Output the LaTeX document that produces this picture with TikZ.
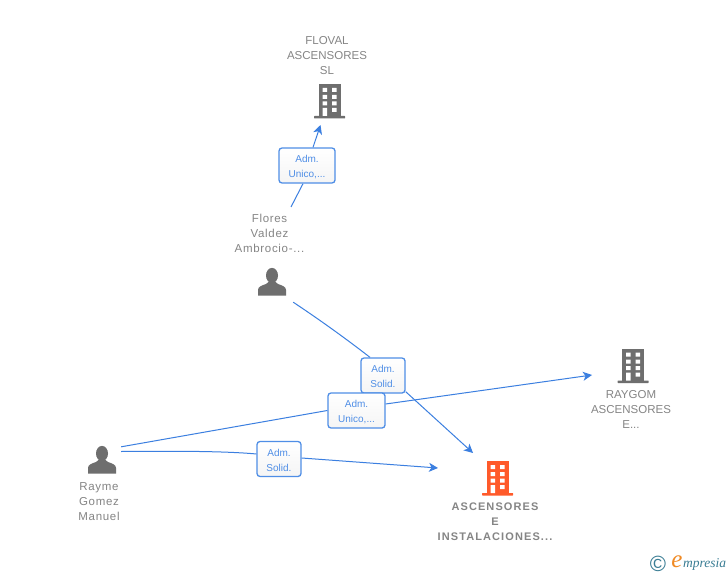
\documentclass[tikz,border=0pt]{standalone}
\usepackage{fontspec}
\setmainfont{Liberation Sans}
\newfontfamily\spacedbold[LetterSpace=10]{Liberation Sans Bold}
\newfontfamily\spacedreg[LetterSpace=6]{Liberation Sans}
\newfontfamily\logofont{Liberation Serif Italic}
\usetikzlibrary{arrows.meta,calc}
\definecolor{linkblue}{HTML}{3B7FE0}
\definecolor{boxblue}{HTML}{4F8EE6}
\definecolor{labelgray}{HTML}{858585}
\definecolor{icongray}{HTML}{6E6E6E}
\definecolor{mainorange}{HTML}{FF5A2A}
\definecolor{logoteal}{HTML}{3A7D94}
\definecolor{logoorange}{HTML}{F08A24}
\tikzset{
  x=1pt,y=-1pt,
  link/.style={draw=linkblue,line width=1pt},
  arrowlink/.style={link,-{Stealth[length=9pt,width=9pt,inset=2.5pt]}},
  rolebox/.style={draw=boxblue,line width=1.3pt,rounded corners=3pt,top color=white,bottom color=black!4,text=boxblue,
    font=\fontsize{10}{15}\selectfont,align=center,inner sep=0pt},
  entitylabel/.style={text=labelgray,font=\fontsize{11.5}{15}\selectfont,align=center,inner sep=0pt},
  personlabel/.style={text=labelgray,font=\fontsize{11.5}{15}\spacedreg\selectfont,align=center,inner sep=0pt},
  mainlabel/.style={text=labelgray,font=\fontsize{11}{15}\spacedbold\selectfont,align=center,inner sep=0pt},
  hit/.style={inner sep=0pt,minimum width=#1,minimum height=#1},
  pics/buildingicon/.style={code={
    \fill[#1] (-11,-16) rectangle (11,16);
    \fill[#1,rounded corners=0.5pt] (-15.5,16) rectangle (15.5,18.5);
    \fill[white] (-7,-12) rectangle (-2.5,-8) (2.5,-12) rectangle (7,-8)
                 (-7,-5) rectangle (-2.5,-1) (2.5,-5) rectangle (7,-1)
                 (-7,1.5) rectangle (-2.5,5.5) (2.5,1.5) rectangle (7,5.5)
                 (-7,8) rectangle (-2.5,16) (2.5,8) rectangle (7,12);
  }},
  pics/personicon/.style={code={
    \fill[icongray] (0,-6.5) ellipse[x radius=6,y radius=7.6];
    \fill[icongray] (-14,13.5) -- (-14,8) .. controls (-14,4.5) and (-10,3.5) .. (-6,2)
      -- (-3.5,0) -- (3.5,0) -- (6,2) .. controls (10,3.5) and (14,4.5) .. (14,8) -- (14,13.5) -- cycle;
  }}
}
\begin{document}
\begin{tikzpicture}
\useasboundingbox[fill=white] (0,0) rectangle (728,575);

% entity positions
\node[hit=34pt] (floval) at (329.5,100) {};
\node[hit=34pt] (raygom) at (633,364.5) {};
\node[hit=34pt] (ascensores) at (497.5,477) {};
\node[inner sep=0pt,minimum width=42pt,minimum height=40pt] (flores) at (272,282) {};
\node[inner sep=0pt,minimum width=38pt,minimum height=28pt] (rayme) at (102,460) {};

% icons
\pic at (floval) {buildingicon=icongray};
\pic at (raygom) {buildingicon=icongray};
\pic at (ascensores) {buildingicon=mainorange};
\pic at (flores) {personicon};
\pic at (rayme) {personicon};

% labels
\node[entitylabel] (flovalL) at (327,55.5) {FLOVAL\\ASCENSORES\\SL};
\node[personlabel] (floresL) at (269.5,233) {Flores\\Valdez\\Ambrocio-...};
\node[personlabel] (raymeL) at (99,502) {Rayme\\Gomez\\Manuel};
\node[entitylabel] (raygomL) at (631,409) {RAYGOM\\ASCENSORES\\E...};
\node[mainlabel] (ascensoresL) at (495,522) {ASCENSORES\\E\\INSTALACIONES...};

% role boxes
\node[rolebox,minimum width=56pt,minimum height=35pt] (b1) at (307,165.5) {\rule{0pt}{10pt}Adm.\\Unico,...};
\node[rolebox,minimum width=44pt,minimum height=35pt] (b2) at (383,375.5) {\rule{0pt}{10pt}Adm.\\Solid.};
\node[rolebox,minimum width=57pt,minimum height=35pt] (b3) at (356.5,410.5) {\rule{0pt}{10pt}Adm.\\Unico,...};
\node[rolebox,minimum width=44pt,minimum height=35pt] (b4) at (279,459) {\rule{0pt}{10pt}Adm.\\Solid.};

% connector ends near the icons
\coordinate (flovalIn) at ($(floval)+(-9,25)$);
\coordinate (raygomIn) at ($(raygom)+(-41,10.5)$);
\coordinate (ascIn1) at ($(ascensores)+(-24.5,-24)$);
\coordinate (ascIn2) at ($(ascensores)+(-59.5,-9)$);
\coordinate (floresOut1) at ($(floresL.center)+(21.5,-26)$);
\coordinate (floresOut2) at (flores.south east);
\coordinate (raymeOut1) at ($(rayme.north east)+(0,1)$);
\coordinate (raymeOut2) at ($(rayme.east)+(0,-8.5)$);

% connectors
\draw[link] (floresOut1) -- ([xshift=-4pt]b1.south);
\draw[arrowlink] ([xshift=6pt]b1.north) -- (flovalIn);
\draw[link] (floresOut2) .. controls (320,320) and (345,338) .. ([xshift=-13pt]b2.north);
\draw[arrowlink] ([yshift=2pt]b2.south east) -- (ascIn1);
\draw[link] (raymeOut1) -- (b3.west);
\draw[arrowlink] ([yshift=6.5pt]b3.east) -- (raygomIn);
\draw[link] (raymeOut2) .. controls (170,451) and (225,451) .. ([yshift=5pt]b4.west);
\draw[arrowlink] ([yshift=1pt]b4.east) -- (ascIn2);

% logo
\node[inner sep=0pt,text=logoteal,font=\fontsize{22}{22}\selectfont] (logoc) at (658,563.5) {\textcopyright};
\node[inner sep=0pt,text=logoorange,font=\fontsize{25}{25}\logofont\selectfont] (logoe) at (677,562) {e};
\node[inner sep=0pt,anchor=west,text=logoteal,font=\fontsize{13.5}{13.5}\logofont\selectfont] (logot) at (683,564.5) {mpresia};
\end{tikzpicture}
\end{document}
